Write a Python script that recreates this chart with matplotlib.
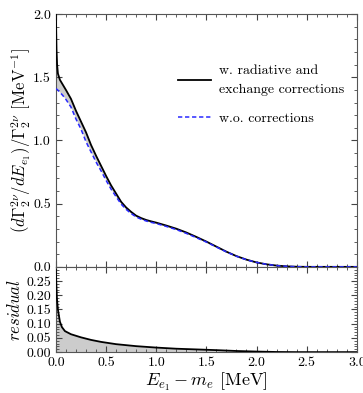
import numpy as np
import matplotlib
matplotlib.use('Agg')
import matplotlib.pyplot as plt
from matplotlib.ticker import MultipleLocator, FormatStrFormatter

plt.rcParams['font.family'] = 'serif'
plt.rcParams['font.serif'] = ['cmr10', 'DejaVu Serif']
plt.rcParams['mathtext.fontset'] = 'cm'
plt.rcParams['axes.formatter.use_mathtext'] = True
plt.rcParams['font.size'] = 10

# spectrum
energy = [0.0, 0.002, 0.006, 0.012, 0.02, 0.04, 0.07, 0.1, 0.15, 0.2, 0.25, 0.3, 0.35, 0.4, 0.45,
          0.5, 0.55, 0.6, 0.65, 0.7, 0.75, 0.8, 0.85, 0.9, 0.95, 1.0, 1.1, 1.2, 1.3, 1.4,
          1.5, 1.6, 1.7, 1.8, 1.9, 2.0, 2.1, 2.2, 2.3, 2.4, 2.5, 3.0]
with_corr = [2.0, 1.9, 1.72, 1.6, 1.53, 1.48, 1.44, 1.40, 1.33, 1.235, 1.15, 1.065, 0.965, 0.88, 0.80,
             0.72, 0.645, 0.58, 0.515, 0.47, 0.435, 0.405, 0.386, 0.371, 0.36, 0.35, 0.327, 0.302,
             0.272, 0.237, 0.20, 0.16, 0.12, 0.085, 0.057, 0.035, 0.02, 0.01, 0.004, 0.001, 0.0, 0.0]
without_corr = [1.41, 1.409, 1.407, 1.404, 1.398, 1.382, 1.355, 1.325, 1.265, 1.17, 1.09, 0.99, 0.91, 0.83,
                0.76, 0.685, 0.615, 0.555, 0.497, 0.455, 0.422, 0.395, 0.377, 0.363, 0.352, 0.343,
                0.32, 0.295, 0.265, 0.231, 0.196, 0.157, 0.118, 0.084, 0.056, 0.035, 0.02, 0.01,
                0.004, 0.001, 0.0, 0.0]

res_energy = [0.0, 0.003, 0.01, 0.02, 0.04, 0.06, 0.09, 0.15, 0.25, 0.35, 0.45, 0.6, 0.8,
              1.0, 1.2, 1.4, 1.6, 1.8, 2.0, 2.2, 2.4, 3.0]
residual = [0.29, 0.25, 0.19, 0.15, 0.107, 0.088, 0.074, 0.063, 0.052, 0.043, 0.036, 0.028, 0.021,
            0.016, 0.012, 0.0095, 0.007, 0.004, 0.002, 0.0005, 0.0, 0.0]

fig = plt.figure(figsize=(3.63, 3.93), dpi=100)
ax1 = fig.add_axes([0.154, 0.321, 0.829, 0.643])
ax2 = fig.add_axes([0.154, 0.104, 0.829, 0.217], sharex=ax1)

ax1.fill_between(energy, without_corr, with_corr, color='#cccccc', lw=0)
ax1.plot(energy, with_corr, color='black', lw=1.3, zorder=3,
         label='w. radiative and\nexchange corrections')
ax1.plot(energy, without_corr, color='#2828ff', lw=1.1, ls=(0, (2.8, 1.8)), zorder=3,
         label='w.o. corrections')
ax1.set_ylim(0, 2.0)
ax1.set_xlim(0, 3.0)
ax1.yaxis.set_major_locator(MultipleLocator(0.5))
ax1.yaxis.set_minor_locator(MultipleLocator(0.1))
ax1.yaxis.set_major_formatter(FormatStrFormatter('%.1f'))
ax1.tick_params(labelbottom=False)
ax1.set_ylabel(r'$(d\Gamma_2^{2\nu}/dE_{e_1})/\Gamma_2^{2\nu}$ [MeV$^{-1}$]', fontsize=12)
leg = ax1.legend(loc='upper right', bbox_to_anchor=(1.0, 0.85), frameon=False, fontsize=10,
                 handlelength=2.4, handletextpad=0.55, labelspacing=1.2)
leg.get_texts()[0].set_linespacing(1.75)

ax2.fill_between(res_energy, 0, residual, color='#cccccc', lw=0)
ax2.plot(res_energy, residual, color='black', lw=1.3, zorder=3)
ax2.set_ylim(0, 0.3)
ax2.set_yticks([0.0, 0.05, 0.1, 0.15, 0.2, 0.25])
ax2.yaxis.set_minor_locator(MultipleLocator(0.01))
ax2.yaxis.set_major_formatter(FormatStrFormatter('%.2f'))
ax2.xaxis.set_major_locator(MultipleLocator(0.5))
ax2.xaxis.set_minor_locator(MultipleLocator(0.1))
ax2.xaxis.set_major_formatter(FormatStrFormatter('%.1f'))
ax2.set_ylabel(r'$residual$', fontsize=12)
ax2.set_xlabel(r'$E_{e_1}-m_e$ [MeV]', fontsize=13, labelpad=1)

for ax in (ax1, ax2):
    ax.tick_params(which='both', direction='in', top=True, right=True, color='#444444')
    ax.tick_params(which='major', length=4)
    ax.tick_params(which='minor', length=2)
    for s in ax.spines.values():
        s.set_color('#555555')
        s.set_linewidth(0.8)

ax1.yaxis.set_label_coords(-0.075, 0.5)
ax2.yaxis.set_label_coords(-0.11, 0.5)

fig.savefig('out.png', dpi=100)
